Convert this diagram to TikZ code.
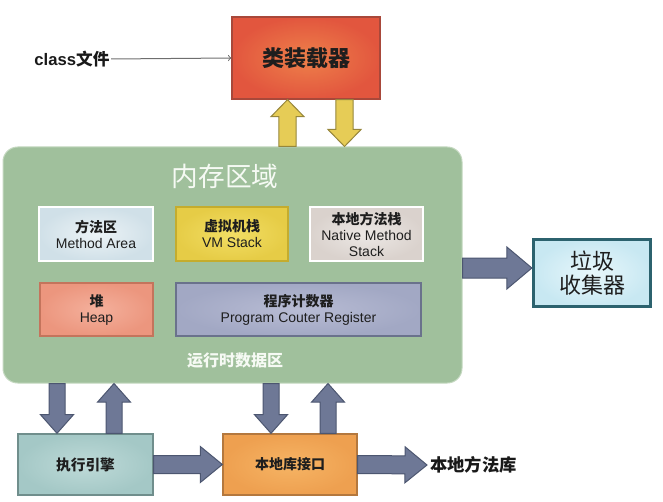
\documentclass[tikz,border=0pt]{standalone}
\usepackage{fontspec}
\setmainfont{Liberation Sans}
\newfontfamily\cjk{Noto Sans CJK SC}
\usetikzlibrary{calc}

\definecolor{loaderin}{RGB}{238,128,74}
\definecolor{loaderout}{RGB}{226,86,62}
\definecolor{memfill}{RGB}{160,192,156}
\definecolor{grayfill}{RGB}{110,120,150}
\definecolor{yellowfill}{RGB}{230,204,86}

\tikzset{
fat shaft/.store in=\arShaft,
fat shaft = 6pt,
fat head/.store in=\arHead,
fat head = 12.4pt,
fat tip/.store in=\arTip,
fat tip = 14pt}
\tikzset{every picture/.style={line width=0.75pt}}
\tikzset{
box/.style={draw, line width=1pt, inner sep=0.75pt, align=center, text={rgb, 255:red, 30; green, 30; blue, 30 }},
label/.style={inner sep=0.75pt, align=center, text={rgb, 255:red, 25; green, 25; blue, 25 }},
grayarrow/.style={draw={rgb, 255:red, 76; green, 86; blue, 112 }, fill=grayfill, line width=0.75pt},
yellowarrow/.style={draw={rgb, 255:red, 150; green, 134; blue, 60 }, fill=yellowfill, line width=0.75pt, fat shaft=6.4pt, fat head=12.4pt, fat tip=12.75pt}}

% block arrow from #2 to #3
\newcommand{\fatarrow}[3][]{%
\filldraw[#1] let \p1=(#2), \p2=(#3),
  \n1={veclen(\x2-\x1,\y2-\y1)}, \n2={(\x2-\x1)/\n1}, \n3={(\y2-\y1)/\n1}
  in ({\x1-\arShaft*\n3},{\y1+\arShaft*\n2})
  -- ({\x2-\arTip*\n2-\arShaft*\n3},{\y2-\arTip*\n3+\arShaft*\n2})
  -- ({\x2-\arTip*\n2-\arHead*\n3},{\y2-\arTip*\n3+\arHead*\n2})
  -- (\p2)
  -- ({\x2-\arTip*\n2+\arHead*\n3},{\y2-\arTip*\n3-\arHead*\n2})
  -- ({\x2-\arTip*\n2+\arShaft*\n3},{\y2-\arTip*\n3-\arShaft*\n2})
  -- ({\x1+\arShaft*\n3},{\y1-\arShaft*\n2}) -- cycle;}

\begin{document}
\begin{tikzpicture}[x=0.75pt,y=-0.75pt]
\useasboundingbox (0,0) rectangle (663,502);

%Shape: Rectangle [id:loader] 
\node[box, draw={rgb, 255:red, 168; green, 72; blue, 58 }, inner color=loaderin, outer color=loaderout, minimum width=111pt, minimum height=61.5pt, font=\cjk\bfseries\fontsize{16.5}{18}\selectfont] (loader) at (306,58) {类装载器};
% Text Node
\node[label, font=\bfseries\fontsize{12.5}{14}\selectfont] (classfile) at (72,59) {class{\cjk\bfseries 文件}};
\draw[->, draw={rgb, 255:red, 110; green, 110; blue, 110 }] (classfile.east) -- (loader.west);

%Shape: Rounded Rectangle [id:mem] 
\node[draw={rgb, 255:red, 196; green, 216; blue, 192 }, fill=memfill, rounded corners=11pt, minimum width=344.25pt, minimum height=177pt] (mem) at (232.5,265) {};
\node[label, text={rgb, 255:red, 246; green, 250; blue, 244 }, font=\cjk\fontsize{20}{22}\selectfont] (memtitle) at (225,176) {内存区域};

%Shape: Rectangle [id:methodarea] 
\node[box, draw=white, inner color={rgb, 255:red, 236; green, 243; blue, 246 }, outer color={rgb, 255:red, 208; green, 224; blue, 232 }, minimum width=85.5pt, minimum height=40.5pt, font=\fontsize{10.5}{12}\selectfont] (methodarea) at (96,234) {{\cjk\bfseries 方法区}\\Method Area};
%Shape: Rectangle [id:vmstack] 
\node[box, draw={rgb, 255:red, 196; green, 172; blue, 46 }, inner color={rgb, 255:red, 242; green, 222; blue, 100 }, outer color={rgb, 255:red, 230; green, 204; blue, 70 }, minimum width=84pt, minimum height=40.5pt, font=\fontsize{10.5}{12}\selectfont] (vmstack) at (232,234) {{\cjk\bfseries 虚拟机栈}\\VM Stack};
%Shape: Rectangle [id:nativestack] 
\node[box, draw=white, inner color={rgb, 255:red, 236; green, 232; blue, 229 }, outer color={rgb, 255:red, 218; green, 210; blue, 205 }, minimum width=84.75pt, minimum height=40.5pt, font=\fontsize{10.5}{12}\selectfont] (nativestack) at (366.5,234) {{\cjk\bfseries 本地方法栈}\\Native Method\\Stack};
%Shape: Rectangle [id:heap] 
\node[box, draw={rgb, 255:red, 196; green, 116; blue, 92 }, inner color={rgb, 255:red, 244; green, 176; blue, 156 }, outer color={rgb, 255:red, 236; green, 150; blue, 126 }, minimum width=84.75pt, minimum height=39.75pt, font=\fontsize{10.5}{12}\selectfont] (heap) at (96.5,309.5) {{\cjk\bfseries 堆}\\Heap};
%Shape: Rectangle [id:pcreg] 
\node[box, draw={rgb, 255:red, 106; green, 114; blue, 140 }, inner color={rgb, 255:red, 184; green, 188; blue, 212 }, outer color={rgb, 255:red, 162; green, 168; blue, 196 }, minimum width=183.75pt, minimum height=39.75pt, font=\fontsize{10.5}{12}\selectfont] (pcreg) at (298.5,309.5) {{\cjk\bfseries 程序计数器}\\Program Couter Register};
% Text Node
\node[label, text={rgb, 255:red, 246; green, 250; blue, 244 }, font=\cjk\bfseries\fontsize{12}{14}\selectfont] (runtime) at (235,361) {运行时数据区};

%Shape: Rectangle [id:gc] 
\node[box, line width=2.2pt, draw={rgb, 255:red, 44; green, 98; blue, 110 }, inner color={rgb, 255:red, 232; green, 247; blue, 251 }, outer color={rgb, 255:red, 200; green, 232; blue, 242 }, minimum width=88pt, minimum height=50.5pt, font=\cjk\fontsize{16.5}{18}\selectfont] (gc) at (592,273) {垃圾\\收集器};

%Shape: Rectangle [id:exec] 
\node[box, draw={rgb, 255:red, 112; green, 142; blue, 140 }, inner color={rgb, 255:red, 190; green, 218; blue, 216 }, outer color={rgb, 255:red, 164; green, 200; blue, 198 }, minimum width=101.25pt, minimum height=45.75pt, font=\cjk\bfseries\fontsize{11}{13}\selectfont] (exec) at (85.5,464.5) {执行引擎};
%Shape: Rectangle [id:nativeif] 
\node[box, draw={rgb, 255:red, 180; green, 120; blue, 62 }, inner color={rgb, 255:red, 246; green, 180; blue, 100 }, outer color={rgb, 255:red, 238; green, 160; blue, 80 }, minimum width=100.5pt, minimum height=45.75pt, font=\cjk\bfseries\fontsize{10.5}{12}\selectfont] (nativeif) at (290,464.5) {本地库接口};
% Text Node
\node[label, anchor=west, inner sep=2pt, font=\cjk\bfseries\fontsize{13}{15}\selectfont] (nativelib) at (427,465) {本地方法库};

% yellow arrows to the class loader
\coordinate (yup) at (287.5,0);
\coordinate (ydown) at (344.5,0);
\fatarrow[yellowarrow]{yup |- mem.north}{yup |- loader.south}
\fatarrow[yellowarrow]{ydown |- loader.south}{ydown |- mem.north}

% to the garbage collector
\coordinate (gcy) at (0,268);
\fatarrow[grayarrow, fat shaft=7.5pt, fat head=15.75pt, fat tip=18.75pt]{mem.east |- gcy}{gc.west |- gcy}

% memory area and the boxes below
\coordinate (d1) at (57,0);
\coordinate (u1) at (114,0);
\coordinate (d2) at (271,0);
\coordinate (u2) at (328,0);
\fatarrow[grayarrow]{d1 |- mem.south}{d1 |- exec.north}
\fatarrow[grayarrow]{u1 |- exec.north}{u1 |- mem.south}
\fatarrow[grayarrow]{d2 |- mem.south}{d2 |- nativeif.north}
\fatarrow[grayarrow]{u2 |- nativeif.north}{u2 |- mem.south}

\fatarrow[grayarrow, fat shaft=6.75pt, fat head=13.5pt, fat tip=16.5pt]{exec.east}{nativeif.west}
\fatarrow[grayarrow, fat shaft=6.75pt, fat head=13.5pt, fat tip=16.5pt]{nativeif.east}{nativelib.west}

\end{tikzpicture}
\end{document}
